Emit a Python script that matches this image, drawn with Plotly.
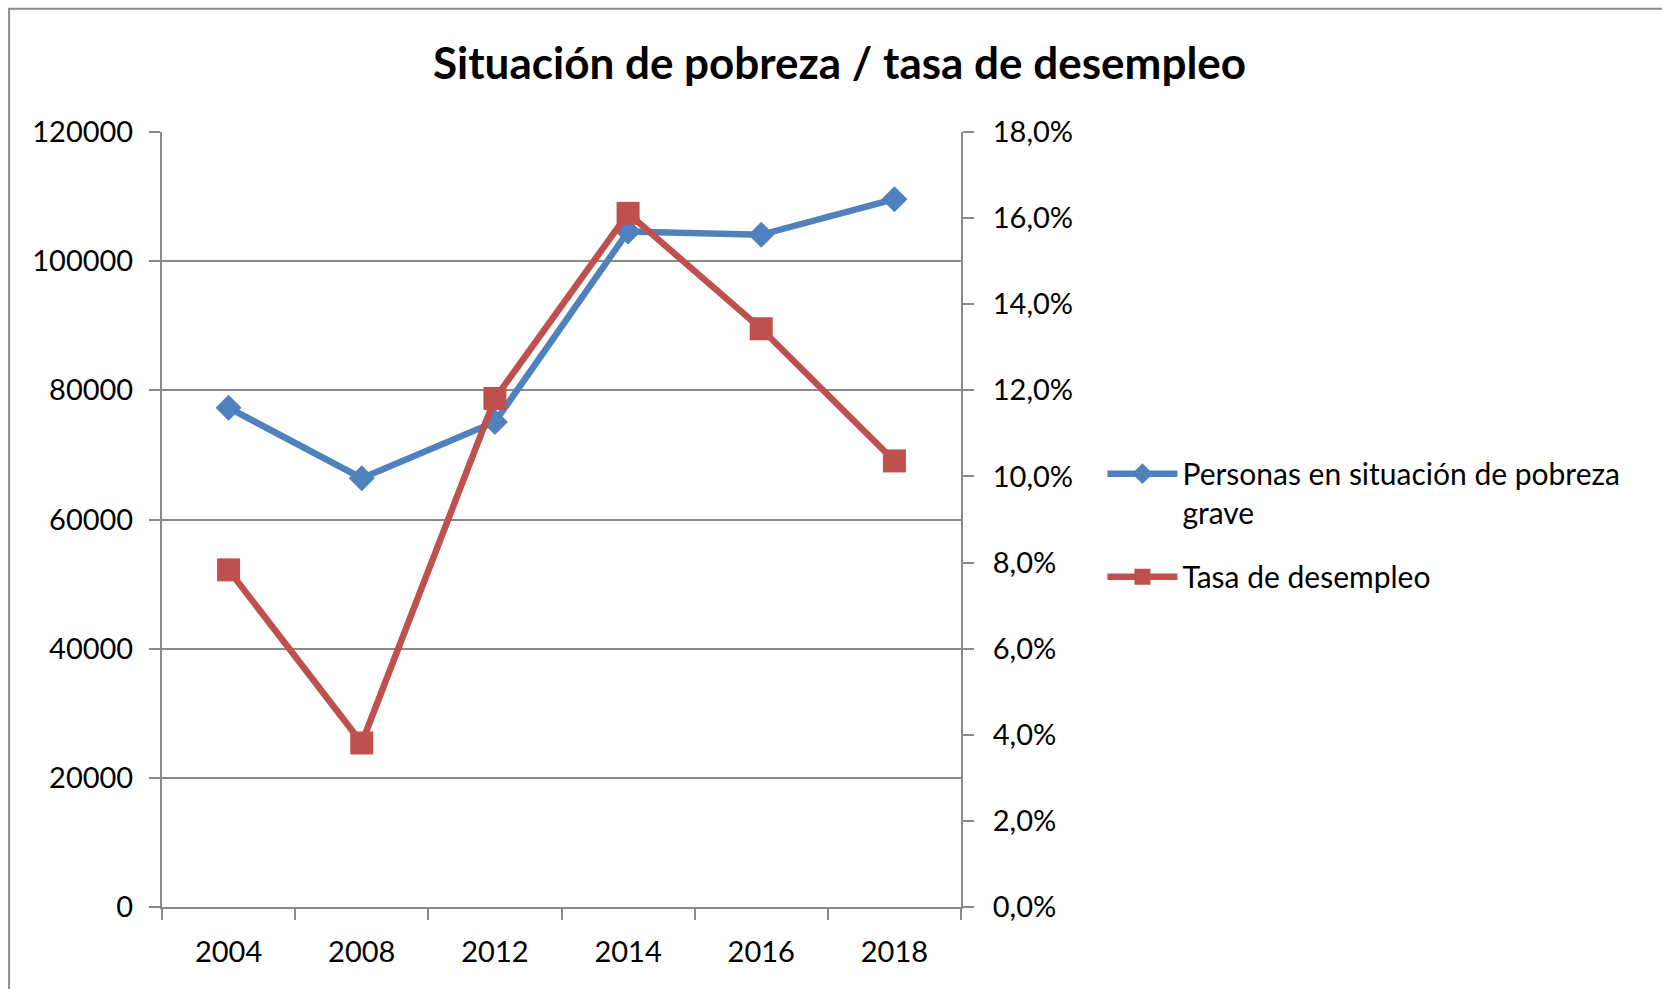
import plotly.graph_objects as go

# ---- data ----
years = ["2004", "2008", "2012", "2014", "2016", "2018"]
pobreza = [77300, 66400, 75100, 104600, 104100, 109600]
desempleo = [7.83, 3.81, 11.81, 16.11, 13.43, 10.36]
left_ticks = [0, 20000, 40000, 60000, 80000, 100000, 120000]
right_ticks = [0, 2, 4, 6, 8, 10, 12, 14, 16, 18]
right_labels = ["0,0%", "2,0%", "4,0%", "6,0%", "8,0%", "10,0%", "12,0%", "14,0%", "16,0%", "18,0%"]
name_pobreza = "Personas en situación de pobreza<br>grave"
name_desempleo = "Tasa de desempleo"
title_text = "Situación de pobreza / tasa de desempleo"

# ---- layout geometry (pixels) ----
W, H = 1662, 989
PL, PR, PT, PB = 162, 961.5, 132.3, 907.4
pw, ph = PR - PL, PB - PT

def px_x(x):
    return (x - PL) / pw

def px_y(y):
    return (PB - y) / ph

BLUE = "#4F81BD"
RED = "#C0504D"
GRID = "#8a8a8a"
FONT = "Lato"
TICKSIZE = 29

fig = go.Figure()
fig.add_trace(go.Scatter(
    x=years, y=pobreza, name=name_pobreza, mode="lines+markers",
    line=dict(color=BLUE, width=6.5),
    marker=dict(symbol="diamond", size=20, color=BLUE),
    yaxis="y", legendgroup="a",
))
fig.add_trace(go.Scatter(
    x=years, y=desempleo, name=name_desempleo, mode="lines+markers",
    line=dict(color=RED, width=6.5),
    marker=dict(symbol="square", size=23, color=RED),
    yaxis="y2", legendgroup="b",
))

tickfont = dict(family=FONT, size=TICKSIZE, color="#000000")

fig.update_layout(
    width=W, height=H,
    margin=dict(l=PL, r=W - PR, t=PT, b=H - PB, pad=0),
    paper_bgcolor="white", plot_bgcolor="white",
    font=dict(family=FONT, size=TICKSIZE, color="#000000"),
    showlegend=True,
    title=dict(
        text="<b>" + title_text + "</b>",
        font=dict(family=FONT, size=44, color="#000000"),
        x=px_x(840), xref="paper", xanchor="center",
        y=1 - 64 / H, yref="container", yanchor="middle",
    ),
    xaxis=dict(
        type="category", categoryorder="array", categoryarray=years,
        tickson="boundaries", ticks="outside", ticklen=11, tickwidth=2, tickcolor=GRID,
        showline=True, linecolor=GRID, linewidth=2,
        showgrid=False, zeroline=False,
        tickfont=tickfont, ticklabelstandoff=18,
        range=[-0.5, 5.5],
    ),
    yaxis=dict(
        range=[0, 120000], tickvals=left_ticks, tickformat="d",
        ticks="outside", ticklen=11, tickwidth=2, tickcolor=GRID,
        showline=True, linecolor=GRID, linewidth=2,
        showgrid=True, gridcolor=GRID, gridwidth=2,
        zeroline=False,
        tickfont=tickfont, ticklabelstandoff=10,
    ),
    yaxis2=dict(
        range=[0, 18], tickvals=right_ticks, ticktext=right_labels,
        overlaying="y", side="right",
        ticks="outside", ticklen=11, tickwidth=2, tickcolor=GRID,
        showline=True, linecolor=GRID, linewidth=2,
        showgrid=False, zeroline=False,
        tickfont=tickfont, ticklabelstandoff=13,
    ),
    legend=dict(
        x=px_x(1103), y=px_y(448), xanchor="left", yanchor="top",
        xref="paper", yref="paper",
        valign="top", itemwidth=70,
        font=dict(family=FONT, size=30, color="#000000"),
        bgcolor="rgba(0,0,0,0)", borderwidth=0,
        tracegroupgap=22,
    ),
    shapes=[dict(
        type="rect", xref="paper", yref="paper",
        x0=px_x(9), x1=px_x(1700), y0=px_y(1040), y1=px_y(9),
        line=dict(color="#8c8c8c", width=2), fillcolor="rgba(0,0,0,0)",
        layer="below",
    )],
)

fig.write_html(
    "out.html",
    config={"displayModeBar": False},
    post_script="document.body.style.margin='0';document.body.style.overflow='hidden';",
)
